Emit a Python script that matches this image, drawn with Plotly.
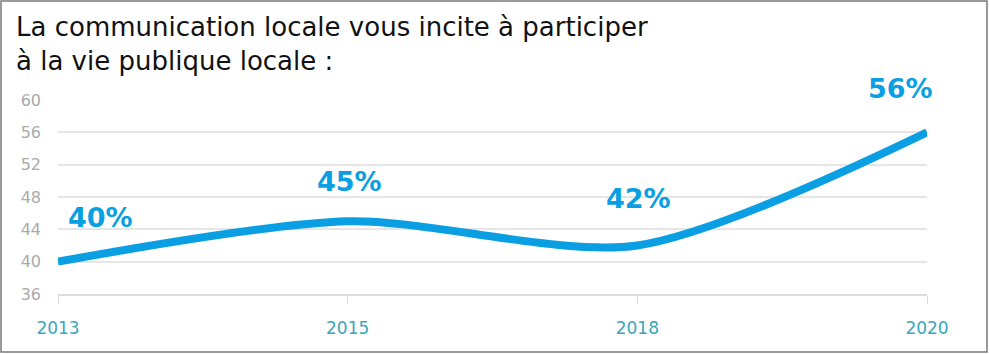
import plotly.graph_objects as go

years = ["2013", "2015", "2018", "2020"]
values = [40, 45, 42, 56]
labels = ["40%", "45%", "42%", "56%"]
y_ticks = [36, 40, 44, 48, 52, 56, 60]
title_lines = ["La communication locale vous incite à participer", "à la vie publique locale :"]

W, H = 990, 354
ML, MR, MT, MB = 58, 63, 100, 60
PW, PH = W - ML - MR, H - MT - MB

BLUE = "#0a9fe2"

fig = go.Figure()
fig.add_trace(go.Scatter(
    x=years, y=values, mode="lines",
    line=dict(color=BLUE, width=8, shape="spline", smoothing=0.8),
    hoverinfo="skip", showlegend=False,
))

# label offsets (px) relative to each point
xshifts = [42, 2, 1, -27]
yshifts = [44, 40, 47, 44]
for i, (v, t, xs, ys) in enumerate(zip(values, labels, xshifts, yshifts)):
    fig.add_annotation(x=i, y=v, text=t, showarrow=False, xshift=xs, yshift=ys,
                       font=dict(family="DejaVu Sans", size=27, color=BLUE, weight="bold"))

fig.add_annotation(xref="paper", yref="paper", x=(14 - ML) / PW, y=(H - MB - 44) / PH,
                   xanchor="left", yanchor="middle", align="left",
                   text="<br>".join(title_lines), showarrow=False,
                   font=dict(family="DejaVu Sans", size=26, color="#111111"))

# frame
fig.add_shape(type="rect", xref="paper", yref="paper",
              x0=(1 - ML) / PW, x1=(987 - ML) / PW, y0=(H - MB - 352) / PH, y1=(H - MB - 1) / PH,
              line=dict(color="#7a7a7a", width=1.5), layer="above")

fig.update_layout(
    width=W, height=H, margin=dict(l=ML, r=MR, t=MT, b=MB),
    paper_bgcolor="white", plot_bgcolor="white",
    xaxis=dict(type="category", range=[0, 3], showgrid=False, zeroline=False,
               showline=True, linecolor="#dcdcdc", linewidth=2,
               ticks="outside", ticklen=8, tickcolor="#dcdcdc", tickwidth=1,
               ticklabelstandoff=10,
               tickfont=dict(family="DejaVu Sans", size=17, color="#3aa7b9")),
    yaxis=dict(range=[36, 60], tickvals=y_ticks, showgrid=True, gridcolor="#e6e6e6", gridwidth=1.5,
               zeroline=False, showline=False, ticks="", ticklabelstandoff=16,
               tickfont=dict(family="DejaVu Sans", size=16, color="#aaaaaa")),
)

fig.write_html("out.html")
